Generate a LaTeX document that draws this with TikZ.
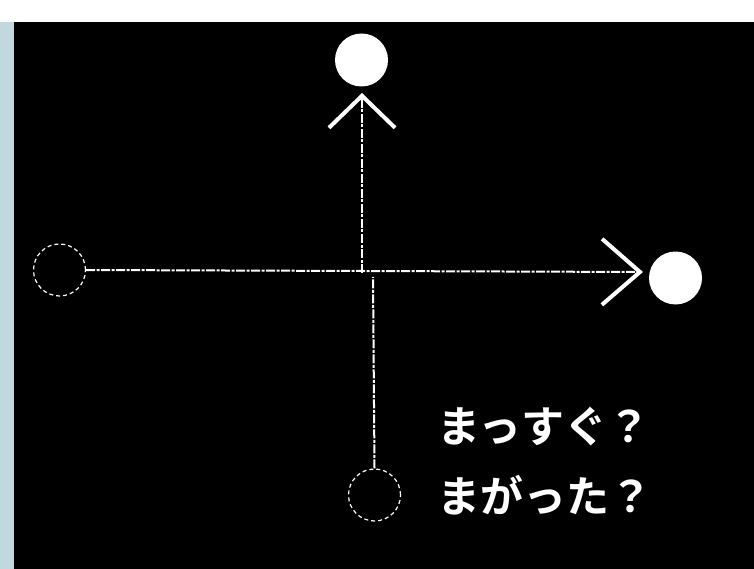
\documentclass[tikz,border=0pt]{standalone}
\usepackage{fontspec}
\newfontfamily\jpfont{Noto Sans CJK JP Bold}
\usetikzlibrary{arrows.meta}
\definecolor{sidebar}{RGB}{192,216,222}
\tikzset{
  ghost/.style={circle, draw=white, line width=1.2pt, dash pattern=on 4pt off 3pt, minimum size=52pt, inner sep=0pt},
  ball/.style={circle, fill=white, minimum size=53pt, inner sep=0pt},
  track/.style={white, line width=2pt, dash pattern=on 9pt off 1.5pt on 3pt off 1.5pt},
  barb/.style={-{Straight Barb[length=#1, width=66pt, line width=4pt]}},
  ask/.style={text=white, anchor=west, font=\jpfont\fontsize{43pt}{47pt}\selectfont, inner sep=0pt}
}
\begin{document}
\begin{tikzpicture}[x=1pt, y=-1pt]
    \useasboundingbox (0, 0) rectangle (754, 569);
    \fill[white] (0, 0) rectangle (754, 22);
    \fill[sidebar] (0, 22) rectangle (14, 569);
    \fill[black] (14, 22) rectangle (754, 569);
    \node[ghost] (start) at (59.5, 270) {};
    \node[ghost] (low) at (374.5, 495) {};
    \node[ball] (goal) at (675.5, 278) {};
    \node[ball] (top) at (361.5, 60) {};
    \coordinate (tipr) at (643, 272);
    \coordinate (tipu) at (362, 93);
    \coordinate (crossu) at (362, 273);
    \coordinate (crossd) at (373, 277);
    \draw[track, barb=38pt] (start.east) -- (tipr);
    \draw[track, barb=32pt] (crossu) -- (tipu);
    \draw[track] (low.north) -- (crossd);
    \node[ask] (q1) at (437, 427) {まっすぐ？};
    \node[ask] (q2) at (437, 495) {まがった？};
  \end{tikzpicture}
\end{document}
